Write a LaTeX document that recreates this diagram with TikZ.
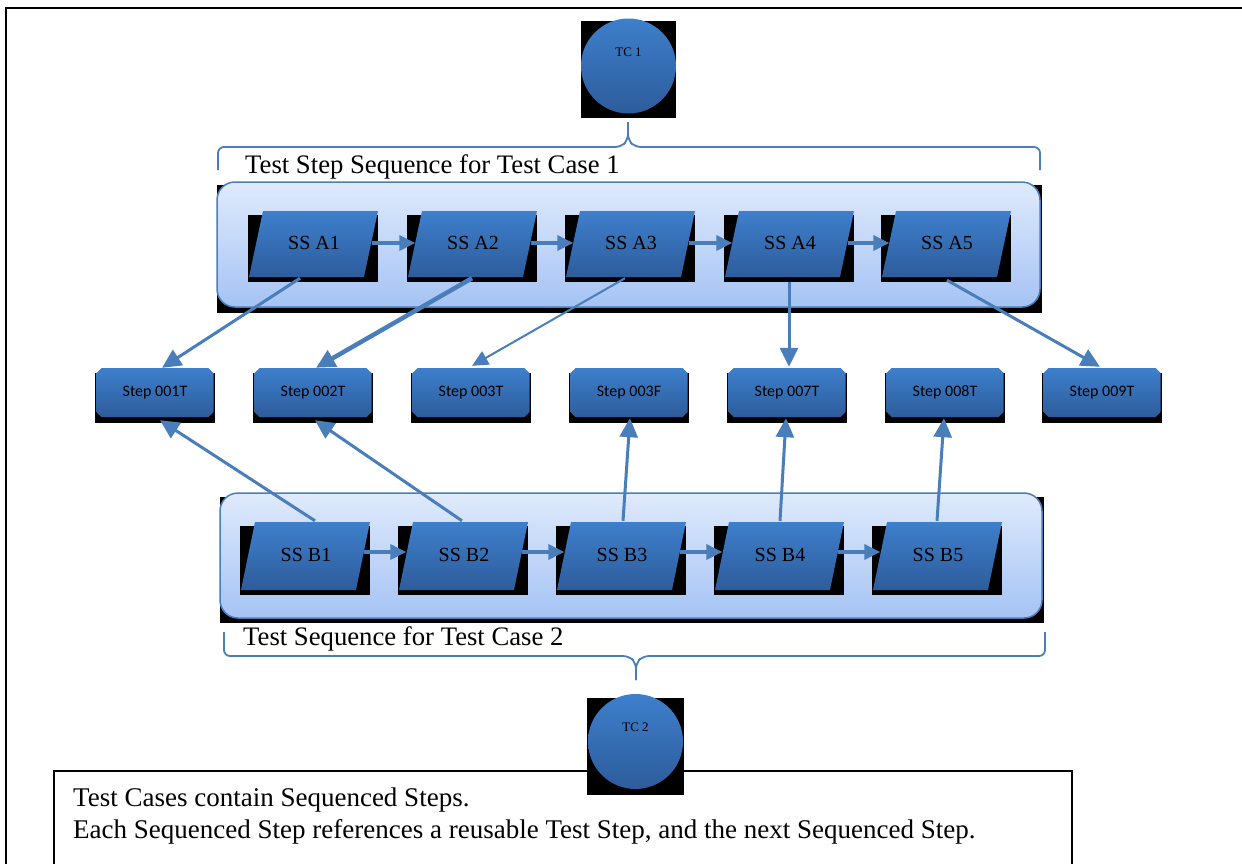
\documentclass[tikz,border=0pt]{standalone}
\usepackage{fontspec}
\setmainfont{Liberation Serif}
\newfontfamily\stepfont{Carlito}
\usetikzlibrary{arrows.meta,calc}
\definecolor{shtop}{HTML}{3E7FCC}
\definecolor{shbot}{HTML}{2D5C9B}
\definecolor{linkblue}{HTML}{4A7EBB}
\definecolor{cttop}{HTML}{DFEAFC}
\definecolor{ctbot}{HTML}{A5C3F4}
\tikzset{
  sslabel/.style={font=\fontsize{20}{24}\selectfont, minimum width=115pt, minimum height=66pt, inner sep=0pt},
  steplabel/.style={font=\stepfont\fontsize{16}{19}\selectfont, minimum width=117pt, minimum height=49pt, inner sep=0pt},
  conn/.style={draw=linkblue, line width=3pt, -{Triangle[length=19pt,width=18pt]}},
  thinconn/.style={draw=linkblue, line width=2pt, -{Triangle[length=16pt,width=15pt]}},
  thickconn/.style={draw=linkblue, line width=4.5pt, -{Triangle[length=19pt,width=18pt]}},
  seqarrow/.style={draw=linkblue, line width=3.5pt, -{Triangle[length=16pt,width=15pt]}},
  brace/.style={draw=linkblue, line width=1.8pt, rounded corners=6pt},
  container/.style={draw=linkblue, line width=1.5pt, rounded corners=18pt, top color=cttop, bottom color=ctbot},
  blueshade/.style={top color=shtop, bottom color=shbot},
  tcnode/.style={circle, minimum size=95pt, inner sep=0pt, blueshade},
  tclabel/.style={font=\fontsize{13}{15}\selectfont},
  headtext/.style={font=\fontsize{26.7}{30}\selectfont, anchor=base west, inner sep=0pt},
  notetext/.style={font=\fontsize{27}{31}\selectfont, anchor=base west, inner sep=0pt}
}
\newcommand\ssnode[5]{% name, bottom-left x, top y, height, label
  \fill[black] (#2-1,#3+4) rectangle (#2+129,#3+#4+5);
  \shade[blueshade] (#2,#3+#4) -- (#2+14,#3) -- (#2+129,#3) -- (#2+115,#3+#4) -- cycle;
  \node[sslabel] (#1) at (#2+65,#3+#4/2-1) {#5};
}
\newcommand\stepnode[3]{% name, centre x, label
  \fill[black] (#2-60,373) rectangle (#2+60,423);
  \shade[blueshade] (#2-53.5,368) -- (#2+53.5,368) -- (#2+58.5,373) -- (#2+58.5,412) -- (#2+53.5,417)
     -- (#2-53.5,417) -- (#2-58.5,412) -- (#2-58.5,373) -- cycle;
  \node[steplabel] (#1) at (#2,392.5) {#3};
}
\begin{document}
\begin{tikzpicture}[x=1pt,y=-1pt]
\useasboundingbox (0,0) rectangle (1242,863);
\fill[white] (0,0) rectangle (1242,863);
% outer frame
\draw[line width=2.5pt] (6,8) rectangle (1270,900);

% TC1
\fill[black] (581,21) rectangle (676,118);
\node[tcnode] (tc1) at (628.5,66) {};
\node[tclabel] (tc1txt) at (628.5,52) {TC 1};

% top brace
\draw[brace] (218,170) -- (218,147) -- (621,147) -- (628,140) -- (628,122);
\draw[brace] (628,122) -- (628,140) -- (635,147) -- (1040,147) -- (1040,170);
\node[headtext] (head1) at (245,173) {Test Step Sequence for Test Case 1};

% container A
\fill[black] (217,185) rectangle (1042,313);
\path[container] (217,182) rectangle (1040,307);

% container B
\fill[black] (220,497) rectangle (1044,623);
\path[container] (220,493) rectangle (1042,618);

% bottom brace
\draw[brace] (224,632) -- (224,656) -- (629,656) -- (636,663) -- (636,680);
\draw[brace] (636,680) -- (636,663) -- (643,656) -- (1045,656) -- (1045,632);
\node[headtext] (head2) at (243,645) {Test Sequence for Test Case 2};

% SS A
\ssnode{a1}{249}{211}{66}{SS A1}
\ssnode{a2}{408}{211}{66}{SS A2}
\ssnode{a3}{566}{211}{66}{SS A3}
\ssnode{a4}{725}{211}{66}{SS A4}
\ssnode{a5}{882}{211}{66}{SS A5}

% SS B
\ssnode{b1}{241}{522}{68}{SS B1}
\ssnode{b2}{399}{522}{68}{SS B2}
\ssnode{b3}{557}{522}{68}{SS B3}
\ssnode{b4}{715}{522}{68}{SS B4}
\ssnode{b5}{873}{522}{68}{SS B5}

% Steps
\stepnode{s1}{155}{Step 001T}
\stepnode{s2}{313}{Step 002T}
\stepnode{s3}{471}{Step 003T}
\stepnode{s4}{629}{Step 003F}
\stepnode{s5}{787}{Step 007T}
\stepnode{s6}{945}{Step 008T}
\stepnode{s7}{1102}{Step 009T}

% sequence arrows
\draw[seqarrow] (a1.east) -- (a2.west);
\draw[seqarrow] (a2.east) -- (a3.west);
\draw[seqarrow] (a3.east) -- (a4.west);
\draw[seqarrow] (a4.east) -- (a5.west);
\draw[seqarrow] ($(b1.east)+(0,-3)$) -- ($(b2.west)+(0,-3)$);
\draw[seqarrow] ($(b2.east)+(0,-3)$) -- ($(b3.west)+(0,-3)$);
\draw[seqarrow] ($(b3.east)+(0,-3)$) -- ($(b4.west)+(0,-3)$);
\draw[seqarrow] ($(b4.east)+(0,-3)$) -- ($(b5.west)+(0,-3)$);

% A references
\draw[conn] ($(a1.south)+(-14,2)$) -- ($(s1.north)+(7,0)$);
\draw[thickconn] ($(a2.south)+(-1,2)$) -- ($(s2.north)+(3,0)$);
\draw[thinconn] ($(a3.south)+(-6,2)$) -- ($(s3.north)+(1,-2)$);
\draw[conn] ($(a4.south)+(-1,6)$) -- ($(s5.north)+(2,-1)$);
\draw[conn] ($(a5.south)+(0,4)$) -- ($(s7.north)+(-2,-1)$);

% B references
\draw[conn] ($(b1.north)+(9,-1)$) -- ($(s1.south)+(5,3)$);
\draw[conn] ($(b2.north)+(-2,-1)$) -- ($(s2.south)+(2,3)$);
\draw[conn] ($(b3.north)+(1,-1)$) -- ($(s4.south)+(1,1)$);
\draw[conn] ($(b4.north)+(0,-1)$) -- ($(s5.south)+(-1,1)$);
\draw[conn] ($(b5.north)+(-1,-1)$) -- ($(s6.south)+(-1,1)$);

% note box
\draw[line width=2pt] (54,771) rectangle (1072,900);
\node[notetext] (note1) at (73,806) {Test Cases contain Sequenced Steps.};
\node[notetext] (note2) at (73,838) {Each Sequenced Step references a reusable Test Step, and the next Sequenced Step.};

% TC2
\fill[black] (587,698) rectangle (684,795);
\node[tcnode] (tc2) at (635.5,741.5) {};
\node[tclabel] (tc2txt) at (635.5,727) {TC 2};
\end{tikzpicture}
\end{document}
